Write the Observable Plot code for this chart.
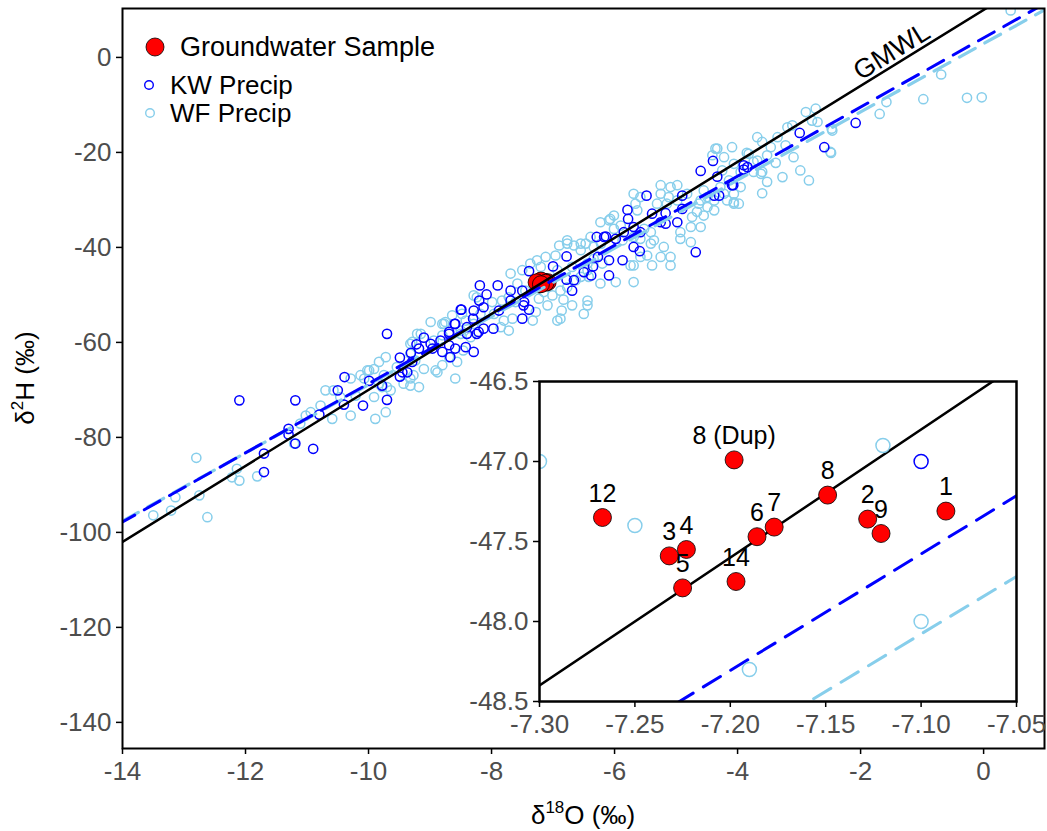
<!DOCTYPE html>
<html><head><meta charset="utf-8">
<script src="https://cdn.jsdelivr.net/npm/d3@7"></script>
<script src="https://cdn.jsdelivr.net/npm/@observablehq/plot@0.6"></script>
<style>
body{margin:0;background:#fff;}
#wrap{position:relative;width:1047px;height:831px;}
#main{position:absolute;left:0;top:0;}
#inset{position:absolute;left:459px;top:371px;}
</style></head><body>
<div id="wrap"><div id="main"></div><div id="inset"></div></div>
<script>
// ---- data ----
const kwO = [-12.10,-11.19,-11.70,-11.70,-10.90,-11.30,-11.30,-11.19,-10.80,-10.40,-10.50,-10.39,-10.09,-9.99,-9.70,-9.70,-9.78,-9.49,-9.49,-9.31,-9.37,-9.18,-9.10,-8.99,-8.69,-8.59,-8.50,-8.40,-8.80,-8.59,-8.42,-9.29,-9.22,-8.96,-8.83,-8.67,-8.40,-8.29,-8.30,-8.20,-8.29,-8.24,-9.45,-8.69,-6.29,-6.78,-7.00,-7.39,-7.90,-8.19,-8.08,-7.69,-7.48,-7.39,-7.50,-7.88,-8.13,-8.49,-8.60,-8.69,-8.13,-7.97,-6.78,-6.69,-6.50,-6.35,-7.10,-8.21,-4.40,-4.60,-4.33,-4.07,-4.38,-5.48,-5.79,-5.78,-5.39,-5.17,-5.17,-5.25,-4.98,-4.90,-4.68,-5.69,-5.85,-6.14,-5.98,-5.69,-5.59,-6.09,-5.87,-6.27,-2.99,-2.59,-2.08,-3.90,-3.90,-4.09,-4.30,-6.17,-6.09,-6.38,-7.50,-7.69,-4.90,-3.84,-5.58,-7.47,-6.66];
const kwH = [-72.2,-72.2,-83.4,-87.3,-82.4,-78.2,-79.4,-81.3,-75.2,-73.1,-70.1,-67.3,-73.3,-68.1,-72.1,-58.2,-69.1,-63.2,-67.2,-62.2,-66.3,-61.3,-59.0,-60.3,-58.2,-56.1,-53.1,-58.2,-62.0,-61.3,-61.0,-64.1,-60.4,-61.3,-59.6,-63.1,-56.8,-53.3,-55.0,-51.2,-62.0,-58.2,-66.3,-60.6,-37.8,-41.9,-44.0,-45.0,-48.0,-48.0,-49.9,-49.1,-52.2,-53.1,-55.0,-53.3,-52.6,-53.1,-56.1,-57.8,-57.1,-57.1,-46.8,-49.1,-45.2,-44.0,-47.0,-57.8,-21.8,-23.9,-25.1,-26.9,-29.1,-29.1,-32.1,-34.0,-32.9,-32.8,-35.0,-34.7,-34.7,-29.1,-41.0,-35.7,-36.8,-37.7,-38.2,-39.9,-40.8,-42.7,-42.7,-42.0,-15.9,-18.9,-13.8,-22.7,-23.6,-26.9,-29.1,-37.8,-45.9,-45.9,-49.1,-51.2,-31.9,-23.1,-36.8,-51.5,-46.9];

const wfO = [-12.80,-12.75,-12.62,-13.21,-13.50,-13.14,-12.14,-12.10,-12.22,-11.81,-11.21,-11.11,-11.02,-10.94,-10.78,-10.70,-10.57,-10.59,-10.46,-10.29,-10.21,-10.13,-9.99,-9.91,-9.89,-9.83,-9.78,-9.72,-9.72,-9.64,-9.32,-9.27,-9.18,-9.21,-9.29,-8.99,-8.91,-8.80,-8.59,-8.80,-8.64,-8.69,-9.32,
-8.77,-8.88,-9.15,-9.32,-9.54,-9.91,-9.75,-10.02,-10.29,-9.83,-9.43,-9.32,-9.10,-8.56,-8.46,-8.34,-8.48,-8.24,-8.80,-8.94,-9.24,-9.70,-10.07,
-7.69,-6.93,-6.50,-7.09,-7.28,-6.90,-6.77,-6.66,-7.12,-7.26,-7.37,-6.96,-7.50,-7.58,-7.72,-7.83,-7.99,-7.61,-7.96,-7.80,-7.66,-7.23,-7.15,-7.01,-6.88,-6.77,-6.63,-6.55,-6.44,-6.44,-6.34,-6.55,-6.69,-8.29,-8.42,-8.75,-8.50,-8.29,-7.85,-7.72,-8.18,-7.45,-7.33,-6.86,-6.69,-6.44,-6.42,-6.83,
-5.09,-5.20,-4.76,-4.93,-4.74,-4.66,-4.63,-4.49,-4.38,-4.22,-4.06,-4.06,-4.14,-4.25,-4.22,-4.41,-4.82,-5.09,-5.25,-5.31,-5.15,-4.98,-5.58,-5.66,-5.63,-6.01,-6.09,-6.01,-5.90,-5.52,-5.41,-5.58,-5.36,-4.93,-5.47,-6.34,-6.47,-6.22,-6.20,-5.39,-5.74,-4.49,-4.55,-4.28,-4.06,
-4.09,-3.68,-3.60,-3.46,-3.19,-3.11,-2.89,-2.73,-2.70,-2.79,-2.46,-2.49,-3.22,-3.52,-3.68,-3.82,-3.74,-3.60,-2.98,-2.84,-3.27,-3.52,-3.09,0.44,-0.69,-0.98,-0.27,-0.03,-1.58,-1.69,-2.47,-2.48,-3.60,-4.33,-3.85,-3.74,-3.38,-3.35,-3.62,-3.95,
-4.36,-3.95,-4.06,-3.98,-4.17,-4.38,-4.55,-4.60,-4.76,-5.09,-5.41,-5.69,-5.69,-5.98,-6.23,-6.88,-6.93,-7.20,-6.77,-6.55,-6.39,-6.23,-6.07,-5.69,-5.25,-5.12,-4.98,-4.60,-8.50,-5.69,-5.87,-5.58,-5.25,-6.44,
-7.30,-7.25,-7.12,-7.10,-7.19];
const wfH = [-84.3,-92.2,-96.8,-95.4,-96.4,-92.6,-86.6,-89.1,-88.4,-88.2,-81.3,-77.1,-75.4,-74.7,-73.3,-70.1,-70.1,-76.1,-71.5,-75.4,-71.2,-66.9,-65.9,-71.5,-76.1,-64.1,-69.4,-74.7,-63.1,-70.1,-69.1,-66.9,-69.4,-58.2,-59.9,-55.7,-65.9,-64.8,-67.6,-56.1,-54.3,-63.1,-62.4,
-56.1,-66.3,-58.2,-60.3,-65.2,-65.6,-66.9,-65.9,-67.6,-68.7,-68.7,-67.6,-65.6,-64.1,-61.7,-58.9,-54.0,-50.5,-58.5,-59.6,-63.8,-69.4,-67.6,
-45.5,-55.4,-54.0,-52.2,-53.6,-39.6,-39.2,-39.6,-42.0,-42.7,-43.4,-41.7,-44.8,-47.6,-50.5,-51.2,-51.5,-51.5,-54.0,-55.4,-55.0,-50.8,-49.4,-50.1,-49.1,-48.4,-46.9,-46.2,-44.8,-43.4,-42.4,-40.6,-44.1,-50.1,-55.4,-55.7,-57.5,-56.1,-56.8,-57.5,-54.0,-49.1,-55.4,-53.3,-52.2,-52.2,-46.2,-51.0,
-42.0,-39.9,-38.9,-36.8,-33.6,-32.5,-30.8,-31.5,-30.1,-28.7,-28.7,-30.8,-25.9,-23.8,-21.0,-20.6,-28.7,-27.3,-28.7,-30.8,-30.8,-30.1,-29.4,-30.8,-32.2,-33.3,-34.3,-36.1,-35.4,-36.1,-36.8,-38.2,-38.5,-38.2,-41.7,-39.9,-39.2,-39.2,-43.4,-43.8,-43.8,-29.4,-28.0,-27.3,-22.4,
-18.9,-16.8,-17.8,-18.9,-14.7,-14.3,-11.5,-10.8,-13.6,-13.3,-15.4,-19.9,-18.5,-20.6,-21.7,-20.3,-24.1,-24.1,-23.8,-25.9,-25.2,-26.2,-21.0,9.9,-3.6,-8.8,-8.5,-8.4,-9.4,-11.9,-15.0,-20.1,-28.6,-19.2,-20.1,-22.0,-22.2,-16.8,-24.5,-27.3,
-19.2,-24.1,-30.5,-30.8,-30.1,-32.2,-33.3,-35.7,-35.7,-43.8,-39.2,-43.8,-47.3,-47.3,-47.6,-55.0,-44.8,-44.1,-38.5,-39.2,-37.8,-34.7,-34.0,-28.7,-26.9,-29.4,-26.9,-30.1,-58.2,-37.8,-38.5,-42.0,-42.0,-51.2,
-47.0,-47.4,-46.9,-48.0,-48.3];

const gwId = ["1","2","3","4","5","6","7","8","8 (Dup)","9","12","14"];
const gwO = [-7.087,-7.128,-7.232,-7.223,-7.225,-7.186,-7.177,-7.149,-7.198,-7.121,-7.267,-7.197];
const gwH = [-47.31,-47.36,-47.59,-47.55,-47.79,-47.47,-47.41,-47.21,-46.99,-47.45,-47.35,-47.75];

// meteoric water lines: slope, intercept
const lineNames = ["GMWL","KW","WF"];
const lineSlope = [8, 7.28, 7.18];
const lineIntercept = [10, 4.11, 2.90];

const xTicksMain = [-14,-12,-10,-8,-6,-4,-2,0];
const yTicksMain = [0,-20,-40,-60,-80,-100,-120,-140];
const xTicksInset = [-7.30,-7.25,-7.20,-7.15,-7.10,-7.05];
const yTicksInset = [-46.5,-47.0,-47.5,-48.0,-48.5];

// ---- build ----
const font = "Arial, 'Liberation Sans', sans-serif";
const kw = kwO.map((o,i)=>({o, h:kwH[i]}));
const wf = wfO.map((o,i)=>({o, h:wfH[i]}));
const gw = gwO.map((o,i)=>({o, h:gwH[i], id:gwId[i]}));
function lineRows(name, dom){
  const k = lineNames.indexOf(name);
  return dom.map(o=>({o, h: lineSlope[k]*o + lineIntercept[k]}));
}
const mainXD = [-14, 0.99], mainYD = [-145.5, 10.3];
const insetXD = [-7.30, -7.05], insetYD = [-48.5, -46.5];
const gray = "#4d4d4d";

const labelO = -1.42;
const gmwlLabel = [{o: labelO, h: lineSlope[0]*labelO + lineIntercept[0], t: "GMWL"}];

const main = Plot.plot({
  width: 1047, height: 831,
  marginLeft: 122, marginRight: 3, marginTop: 8, marginBottom: 83,
  style: {fontFamily: font, background: "white"},
  x: {domain: mainXD},
  y: {domain: mainYD},
  marks: [
    Plot.dot(wf, {x:"o", y:"h", r:4.6, stroke:"skyblue", strokeWidth:1.5, clip:true}),
    Plot.dot(kw, {x:"o", y:"h", r:4.6, stroke:"blue", strokeWidth:1.5, clip:true}),
    Plot.dot(gw, {x:"o", y:"h", r:8.5, fill:"red", stroke:"black", strokeWidth:0.8}),
    Plot.line(lineRows("WF", mainXD), {x:"o", y:"h", stroke:"skyblue", strokeWidth:3.2, strokeDasharray:"18,11", clip:true}),
    Plot.line(lineRows("KW", mainXD), {x:"o", y:"h", stroke:"blue", strokeWidth:3, strokeDasharray:"18,11", strokeDashoffset:4, clip:true}),
    Plot.line(lineRows("GMWL", mainXD), {x:"o", y:"h", stroke:"black", strokeWidth:2.5, clip:true}),
    Plot.text(gmwlLabel, {x:"o", y:"h", text:"t", rotate:-31.7, fontSize:27, fill:"black", lineAnchor:"bottom", textAnchor:"middle", dy:-5}),
    Plot.axisX({ticks: xTicksMain, tickSize:6, tickPadding:7, fontSize:26, stroke:"black", strokeWidth:1.5, fill:gray, label:null, tickFormat:d=>String(d)}),
    Plot.axisY({ticks: yTicksMain, tickSize:6, tickPadding:5, fontSize:26, stroke:"black", strokeWidth:1.5, fill:gray, label:null, tickFormat:d=>String(d)}),
    Plot.frame({stroke:"black", strokeWidth:2})
  ]
});
document.getElementById("main").appendChild(main);

// legend + axis titles
const svg = d3.select(main);
const g = svg.append("g").attr("font-family", font).attr("fill","black").attr("text-anchor","start");
g.append("circle").attr("cx",155).attr("cy",47).attr("r",9).attr("fill","red").attr("stroke","black").attr("stroke-width",0.8);
g.append("text").attr("x",180).attr("y",47).attr("dominant-baseline","central").attr("font-size",27).text("Groundwater Sample");
g.append("circle").attr("cx",149).attr("cy",85).attr("r",4.3).attr("fill","none").attr("stroke","blue").attr("stroke-width",1.4);
g.append("text").attr("x",170).attr("y",85).attr("dominant-baseline","central").attr("font-size",26).text("KW Precip");
g.append("circle").attr("cx",150).attr("cy",113).attr("r",4.3).attr("fill","none").attr("stroke","skyblue").attr("stroke-width",1.4);
g.append("text").attr("x",170).attr("y",113).attr("dominant-baseline","central").attr("font-size",26).text("WF Precip");

const xt = g.append("text").attr("x",583).attr("y",824).attr("text-anchor","middle").attr("font-size",26);
xt.append("tspan").text("δ");
xt.append("tspan").attr("dy",-11).attr("font-size",17).text("18");
xt.append("tspan").attr("dy",11).text("O (‰)");
const yt = g.append("text").attr("transform","translate(34,378) rotate(-90)").attr("text-anchor","middle").attr("font-size",26);
yt.append("tspan").text("δ");
yt.append("tspan").attr("dy",-11).attr("font-size",17).text("2");
yt.append("tspan").attr("dy",11).text("H (‰)");

// inset
const inset = Plot.plot({
  width: 567, height: 380,
  marginLeft: 80, marginRight: 10, marginTop: 10, marginBottom: 50,
  style: {fontFamily: font, background: "transparent", overflow: "visible"},
  x: {domain: insetXD},
  y: {domain: insetYD},
  marks: [
    Plot.frame({fill:"white"}),
    Plot.line(lineRows("WF", insetXD), {x:"o", y:"h", stroke:"skyblue", strokeWidth:3, strokeDasharray:"20,12", clip:true}),
    Plot.line(lineRows("KW", insetXD), {x:"o", y:"h", stroke:"blue", strokeWidth:3, strokeDasharray:"20,12", clip:true}),
    Plot.line(lineRows("GMWL", insetXD), {x:"o", y:"h", stroke:"black", strokeWidth:2.5, clip:true}),
    Plot.dot(wf, {x:"o", y:"h", r:7, stroke:"skyblue", strokeWidth:1.5, clip:true}),
    Plot.dot(kw, {x:"o", y:"h", r:7, stroke:"blue", strokeWidth:1.5, clip:true}),
    Plot.dot(gw, {x:"o", y:"h", r:9, fill:"red", stroke:"black", strokeWidth:0.8}),
    Plot.text(gw, {x:"o", y:"h", text:"id", dy:-24, fontSize:25, fill:"black"}),
    Plot.axisX({ticks: xTicksInset, tickSize:6, tickPadding:7, fontSize:26, stroke:"black", strokeWidth:1.5, fill:gray, label:null, tickFormat:d=>d.toFixed(2)}),
    Plot.axisY({ticks: yTicksInset, tickSize:6, tickPadding:5, fontSize:26, stroke:"black", strokeWidth:1.5, fill:gray, label:null, tickFormat:d=>d.toFixed(1)}),
    Plot.frame({stroke:"black", strokeWidth:2.5})
  ]
});
document.getElementById("inset").appendChild(inset);
</script>
</body></html>
